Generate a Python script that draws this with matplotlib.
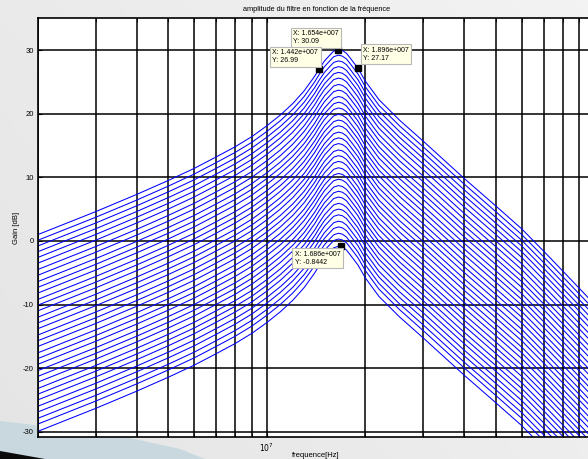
import numpy as np
import matplotlib
matplotlib.use('Agg')
import matplotlib.pyplot as plt
from matplotlib.patches import Polygon

plt.rcParams['font.family'] = ['Liberation Sans', 'DejaVu Sans']
plt.rcParams['axes.unicode_minus'] = False

# gain of the highest curve (dB) against frequency (Hz)
freq = [2e6, 3e6, 4e6, 5e6, 6e6, 7e6, 8e6, 9e6, 1e7, 1.1e7, 1.2e7, 1.3e7,
        1.4e7, 1.442e7, 1.5e7, 1.55e7, 1.6e7, 1.654e7, 1.7e7, 1.75e7, 1.8e7,
        1.896e7, 2e7, 2.2e7, 2.54e7, 3e7, 4e7, 5e7, 6e7, 7e7, 8e7, 9.57e7, 1e8]
top_gain = [1.0, 4.6, 7.3, 9.5, 11.4, 13.2, 14.8, 16.4, 18.1, 19.8, 21.6, 23.6,
            25.9, 26.99, 28.3, 29.1, 29.85, 30.09, 29.95, 29.5, 28.7,
            27.17, 25.1, 22.2, 19.0, 15.7, 9.85, 5.5, 1.9, -1.6, -4.7, -8.9, -9.9]

# peak gain of each curve of the family (dB)
peak_gain = [30.09, 29.2, 28.3, 27.4, 26.5, 25.6, 24.6, 23.7, 22.7, 21.8,
             20.9, 19.9, 19.0, 18.1, 17.1, 16.2, 15.3, 14.3, 13.4, 12.5,
             11.5, 10.6, 9.7, 8.7, 7.8, 6.9, 5.9, 5.0, 4.1, 3.1, 2.2, 1.2,
             0.3, -0.8442]

# data tips
tip_x = [1.654e7, 1.442e7, 1.896e7, 1.686e7]
tip_y = [30.09, 26.99, 27.17, -0.8442]
tip_txt = ['X: 1.654e+007\nY: 30.09', 'X: 1.442e+007\nY: 26.99',
           'X: 1.896e+007\nY: 27.17', 'X: 1.686e+007\nY: -0.8442']
tip_off = [(-32.7, 14.0), (-33.5, 14.3), (3.8, 15.5), (-33.5, -3.3)]

fig = plt.figure(figsize=(5.88, 4.59), dpi=100)

# slide background
bg = fig.add_axes([0, 0, 1, 1], zorder=-10)
gx, gy = np.meshgrid(np.linspace(0, 1, 200), np.linspace(0, 1, 200))
shade = 0.895 + 0.035 * gx + 0.02 * (1 - gy)
bg.imshow(shade, cmap='gray', vmin=0, vmax=1, extent=[0, 588, 459, 0], aspect='auto')
bg.add_patch(Polygon([(0, 421), (60, 428), (130, 438), (180, 449), (205, 459), (0, 459)],
                     closed=True, color='#c9d8df', lw=0))
bg.add_patch(Polygon([(0, 451), (45, 459), (0, 459)], closed=True, color='#0a0a0a', lw=0))
bg.set_xlim(0, 588)
bg.set_ylim(459, 0)
bg.axis('off')

ax = fig.add_axes([38 / 588, 21.7 / 459, 556.3 / 588, 419 / 459])
ax.set_facecolor('white')

base = np.array(top_gain) - top_gain[17]
for pk in peak_gain:
    ax.semilogx(freq, base + pk, color='#0000ff', lw=0.75)

ax.plot(tip_x, tip_y, 's', color='black', ms=4, zorder=5)
for x, y, t, off in zip(tip_x, tip_y, tip_txt, tip_off):
    ax.annotate(t, xy=(x, y), xytext=off, textcoords='offset points',
                ha='left', va='top', fontsize=5, zorder=6,
                bbox=dict(boxstyle='square,pad=0.35', fc='#ffffe6', ec='#b8b8b8', lw=0.8))

ax.set_xlim(2e6, 1e8)
ax.set_ylim(-30.88, 35.0)
ax.set_yticks([-30, -20, -10, 0, 10, 20, 30])
ax.set_xticks([1e7])
ax.set_xticklabels(['$10^{7}$'])
ax.set_xticks([k * 1e6 for k in range(2, 10)] + [k * 1e7 for k in range(2, 10)], minor=True)
ax.xaxis.set_minor_formatter(matplotlib.ticker.NullFormatter())
ax.grid(True, which='both', color='black', lw=1.1)
ax.tick_params(which='both', direction='in', length=3, labelsize=5.5, colors='black',
               top=True, right=True, pad=3)
for s in ax.spines.values():
    s.set_linewidth(1.2)

ax.set_title('amplitude du filtre en fonction de la fréquence', fontsize=5.3, pad=5)
ax.set_ylabel('Gain [dB]', fontsize=5.5)
ax.yaxis.set_label_coords(-0.032, 0.5)
ax.set_xlabel('frequence[Hz]', fontsize=5.5)
ax.xaxis.set_label_coords(0.5, -0.036)

fig.savefig('out.png', dpi=100)
